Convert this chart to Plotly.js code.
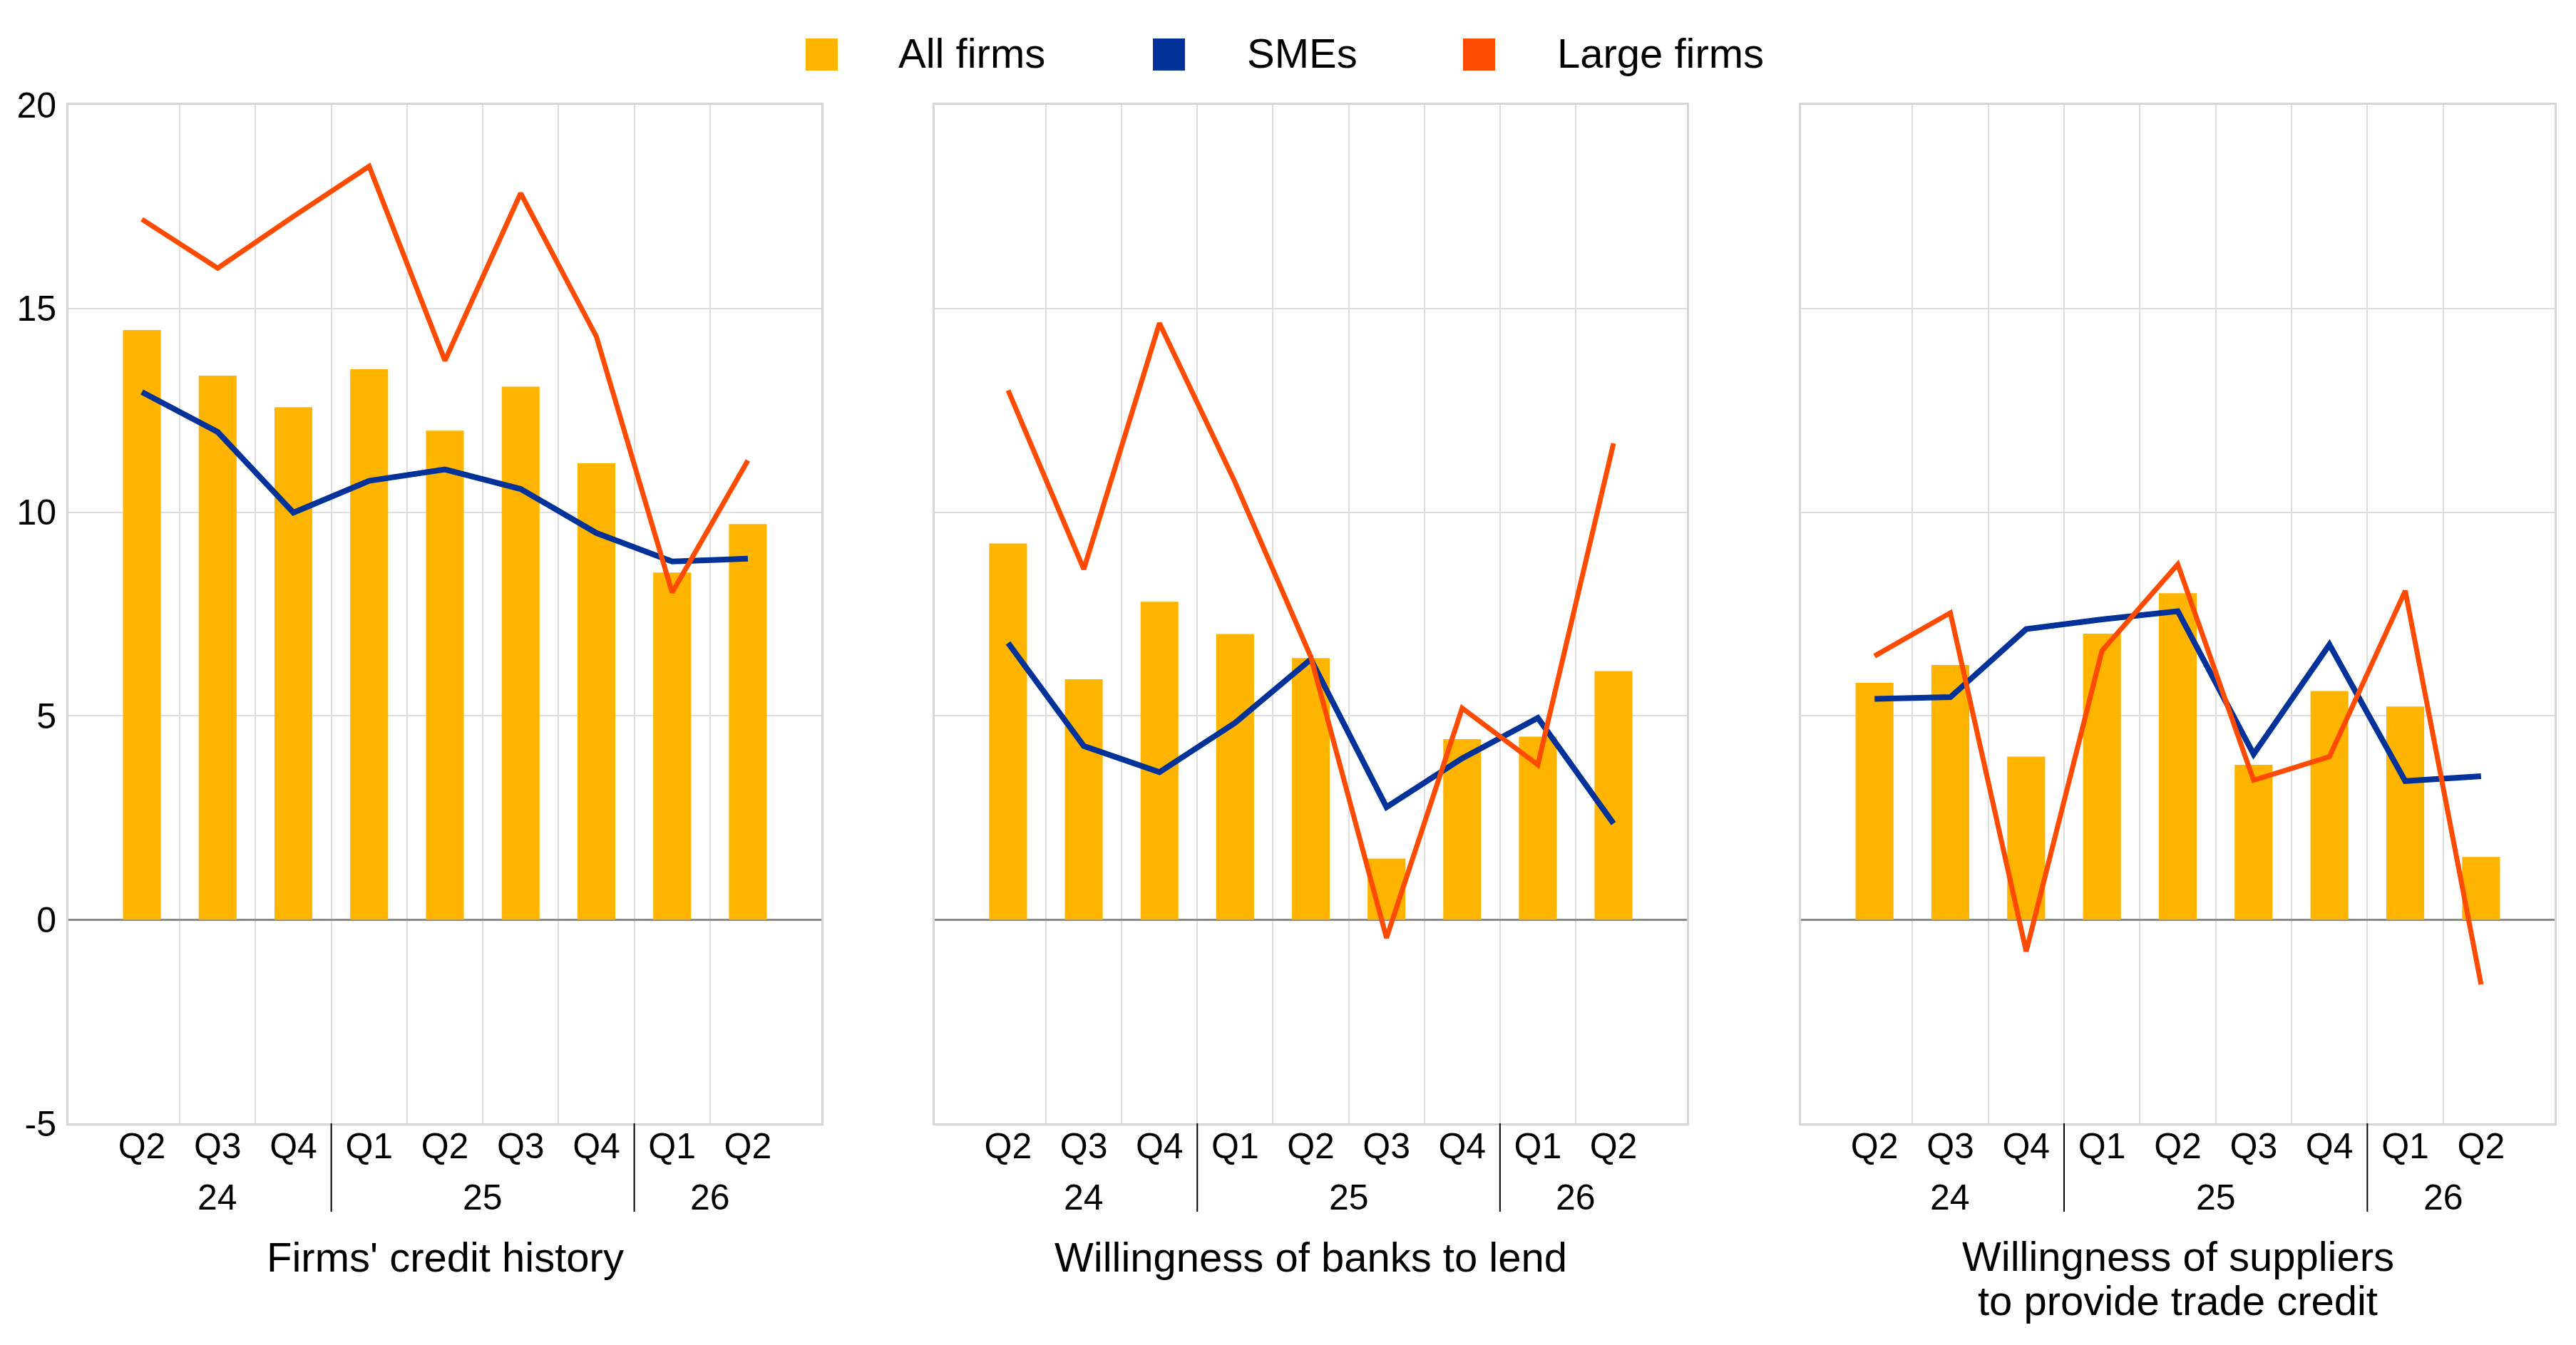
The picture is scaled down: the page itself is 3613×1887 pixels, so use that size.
<!DOCTYPE html>
<html>
<head>
<meta charset="utf-8">
<script src="https://cdn.plot.ly/plotly-3.0.1.min.js"></script>
<style>
  html, body { margin: 0; padding: 0; background: #fff; }
  #chart-area { width: 3613px; height: 1887px; }
</style>
</head>
<body>
<div id="chart-area"></div>
<script>
// categories
const quarters = ["Q2", "Q3", "Q4", "Q1", "Q2", "Q3", "Q4", "Q1", "Q2"];
const quarterYears = ["24", "24", "24", "25", "25", "25", "25", "26", "26"];

const yTickVals = [-5, 0, 5, 10, 15, 20];
const yTickText = ["-5", "0", "5", "10", "15", "20"];

const seriesNames = ["All firms", "SMEs", "Large firms"];
const seriesColors = ["#FFB400", "#003299", "#FF4B00"];

const panelTitles = [
  ["Firms' credit history"],
  ["Willingness of banks to lend"],
  ["Willingness of suppliers", "to provide trade credit"],
];

// panel 1: firms' credit history
const allFirmsCredit = [14.47, 13.35, 12.58, 13.51, 12.0, 13.08, 11.2, 8.52, 9.71];
const smesCredit = [12.95, 11.97, 9.99, 10.77, 11.05, 10.57, 9.49, 8.79, 8.86];
const largeCredit = [17.19, 15.99, 17.26, 18.49, 13.72, 17.83, 14.31, 8.03, 11.27];

// panel 2: willingness of banks to lend
const allFirmsBanks = [9.23, 5.9, 7.8, 7.01, 6.42, 1.5, 4.43, 4.49, 6.1];
const smesBanks = [6.79, 4.26, 3.62, 4.83, 6.39, 2.76, 3.96, 4.95, 2.36];
const largeBanks = [12.99, 8.6, 14.64, 10.73, 6.45, -0.45, 5.19, 3.8, 11.69];

// panel 3: willingness of suppliers to provide trade credit
const allFirmsSuppliers = [5.81, 6.25, 4.0, 7.02, 8.01, 3.8, 5.61, 5.23, 1.54];
const smesSuppliers = [5.42, 5.46, 7.13, 7.37, 7.57, 4.06, 6.75, 3.4, 3.52];
const largeSuppliers = [6.47, 7.53, -0.78, 6.6, 8.72, 3.42, 4.0, 8.07, -1.59];

const panels = [
  [allFirmsCredit, smesCredit, largeCredit],
  [allFirmsBanks, smesBanks, largeBanks],
  [allFirmsSuppliers, smesSuppliers, largeSuppliers],
];

const W = 3613, H = 1887;
const FONT = "Liberation Sans, Arial, sans-serif";

// pixel boxes of the three plot areas
const panelLeft = [96, 1311, 2526];
const panelRight = [1152, 2366, 3583];
const plotTop = 147, plotBottom = 1576;
const yDomain = [1 - plotBottom / H, 1 - plotTop / H];

const xIdx = quarters.map((q, i) => i);
const boundaries = xIdx.slice(0, -1).map((i) => i + 0.5);

// year groups: centre and right boundary from quarterYears
const yearGroups = [];
quarterYears.forEach((yr, i) => {
  let g = yearGroups[yearGroups.length - 1];
  if (!g || g.label != yr) {
    g = { label: yr, first: i, last: i };
    yearGroups.push(g);
  } else g.last = i;
});

let data = [];
let layout = {
  width: W,
  height: H,
  margin: { l: 0, r: 0, t: 0, b: 0 },
  paper_bgcolor: "#fff",
  plot_bgcolor: "#fff",
  showlegend: false,
  font: { family: FONT, color: "#000", size: 50 },
  annotations: [],
  shapes: [],
};

panels.forEach((series, p) => {
  const n = p + 1;
  const xa = n == 1 ? "x" : "x" + n;
  const ya = n == 1 ? "y" : "y" + n;

  // bars: all firms
  data.push({
    type: "bar",
    x: xIdx,
    y: series[0],
    width: 0.5,
    marker: { color: seriesColors[0] },
    xaxis: xa,
    yaxis: ya,
    hoverinfo: "none",
  });
  // lines: SMEs then large firms on top
  for (let s = 1; s < 3; s++) {
    data.push({
      type: "scatter",
      mode: "lines",
      x: xIdx,
      y: series[s],
      line: { color: seriesColors[s], width: s == 1 ? 8 : 7 },
      xaxis: xa,
      yaxis: ya,
      hoverinfo: "none",
    });
  }

  layout["xaxis" + (n == 1 ? "" : n)] = {
    domain: [panelLeft[p] / W, panelRight[p] / W],
    anchor: ya,
    range: [-0.97, 8.97],
    tickmode: "array",
    tickvals: xIdx,
    ticktext: quarters,
    ticks: "",
    ticklabelstandoff: -14,
    showgrid: false,
    zeroline: false,
    showline: true,
    mirror: true,
    linecolor: "#d6d6d6",
    linewidth: 3,
    tickfont: { size: 50, family: FONT },
    minor: {
      tickmode: "array",
      tickvals: boundaries,
      showgrid: true,
      gridcolor: "#dedede",
      gridwidth: 2,
      ticks: "",
    },
    fixedrange: true,
  };
  layout["yaxis" + (n == 1 ? "" : n)] = {
    domain: yDomain,
    anchor: xa,
    range: [-5, 20],
    tickmode: "array",
    tickvals: yTickVals,
    ticktext: yTickText,
    ticks: "",
    showticklabels: n == 1,
    ticklabelstandoff: 4,
    tickfont: { size: 50, family: FONT },
    gridcolor: "#dedede",
    gridwidth: 2,
    zeroline: true,
    zerolinecolor: "#8a8a8a",
    zerolinewidth: 3,
    showline: true,
    mirror: true,
    linecolor: "#d6d6d6",
    linewidth: 3,
    fixedrange: true,
  };

  // year labels and group dividers
  yearGroups.forEach((g, k) => {
    layout.annotations.push({
      xref: xa,
      yref: "paper",
      x: (g.first + g.last) / 2,
      xanchor: "center",
      y: 1 - 1680 / H,
      yanchor: "middle",
      text: g.label,
      showarrow: false,
      font: { size: 50, family: FONT },
    });
    if (k < yearGroups.length - 1) {
      layout.shapes.push({
        type: "line",
        xref: xa,
        yref: "paper",
        x0: g.last + 0.5,
        x1: g.last + 0.5,
        y0: 1 - plotBottom / H,
        y1: 1 - 1700 / H,
        line: { color: "#000", width: 2 },
      });
    }
  });

  // panel titles
  const lines = panelTitles[p];
  lines.forEach((t, k) => {
    layout.annotations.push({
      xref: "paper",
      yref: "paper",
      x: (panelLeft[p] + panelRight[p]) / 2 / W,
      xanchor: "center",
      y: 1 - (lines.length == 1 ? 1763 : 1762 + k * 62) / H,
      yanchor: "middle",
      text: t,
      showarrow: false,
      font: { size: 58, family: FONT },
    });
  });
});

// legend drawn by hand (square swatches)
const legendSwatchX = [1130, 1617, 2052];
const legendTextX = [1258, 1747, 2182];
seriesNames.forEach((name, i) => {
  layout.shapes.push({
    type: "rect",
    xref: "paper",
    yref: "paper",
    x0: legendSwatchX[i] / W,
    x1: (legendSwatchX[i] + 45) / W,
    y0: 1 - 99 / H,
    y1: 1 - 54 / H,
    fillcolor: seriesColors[i],
    line: { width: 0 },
  });
  layout.annotations.push({
    xref: "paper",
    yref: "paper",
    x: legendTextX[i] / W,
    y: 1 - 75 / H,
    xanchor: "left",
    yanchor: "middle",
    text: name,
    showarrow: false,
    font: { size: 58, family: FONT },
  });
});

Plotly.newPlot("chart-area", data, layout, { staticPlot: true });
</script>
</body>
</html>
